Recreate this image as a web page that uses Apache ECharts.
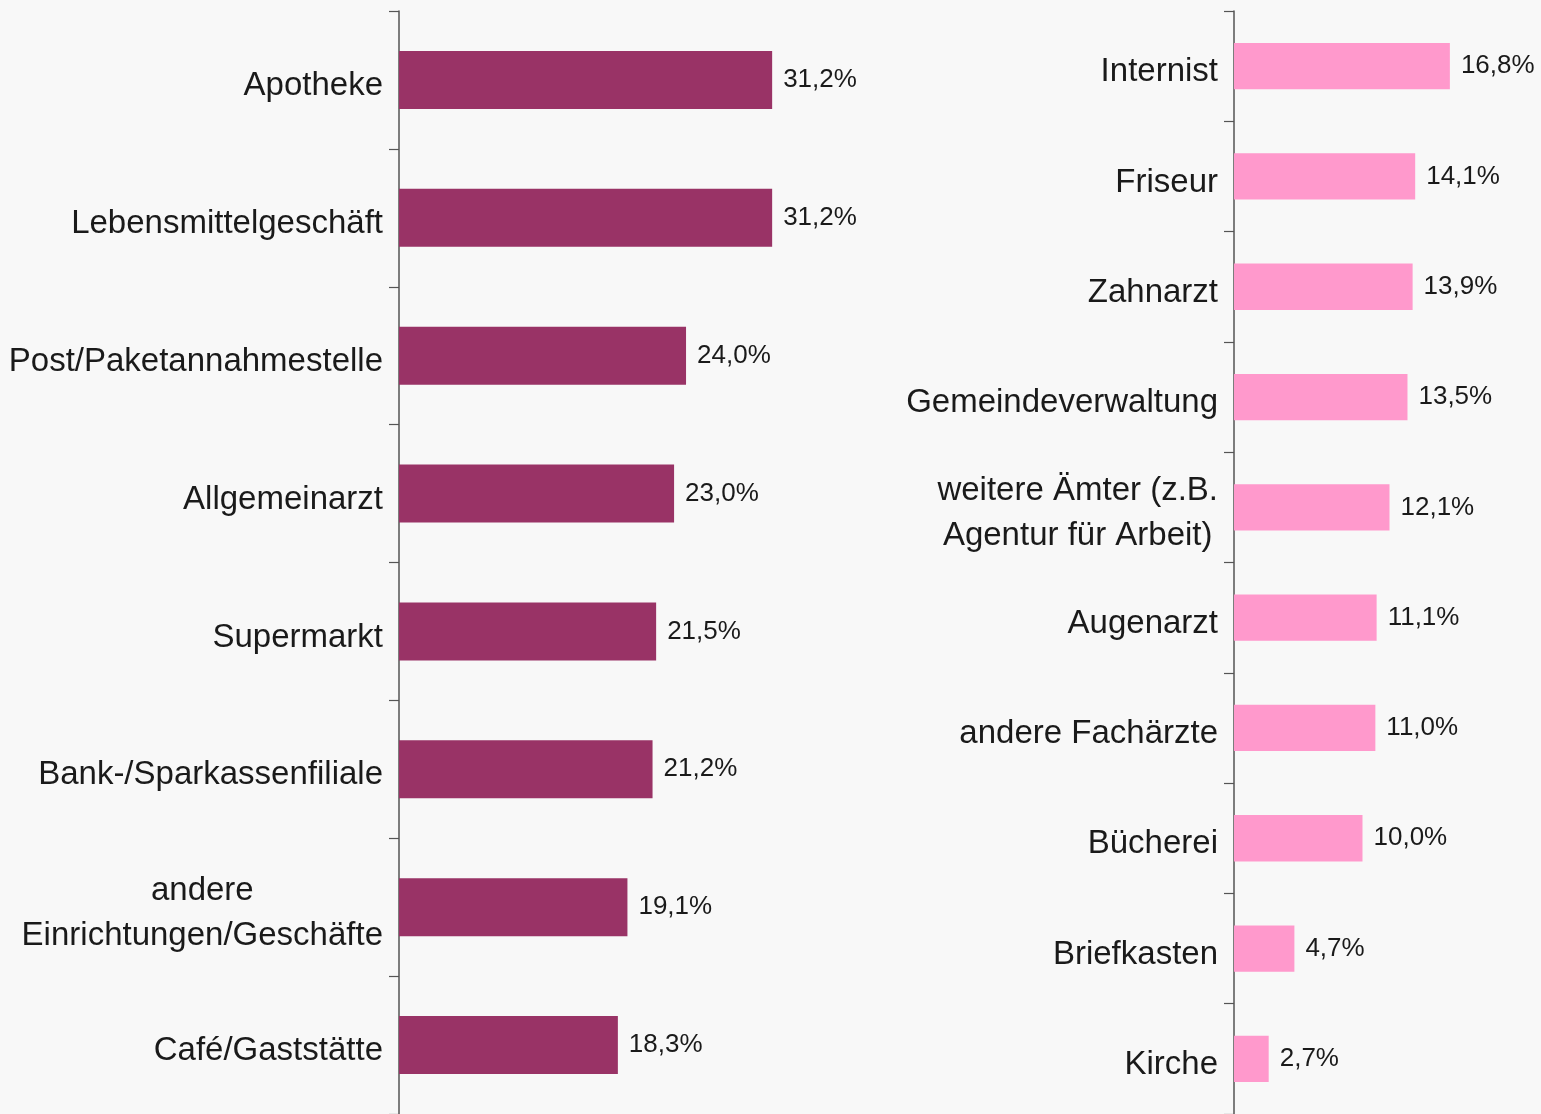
<!DOCTYPE html>
<html>
<head>
<meta charset="utf-8">
<script src="https://cdn.jsdelivr.net/npm/echarts@6/dist/echarts.min.js"></script>
<style>
  html, body { margin: 0; padding: 0; background: #f8f8f8; }
  #chart { width: 1541px; height: 1114px; }
</style>
</head>
<body>
<div id="chart"></div>
<script>
// linke Gruppe
const leftCats = ['Apotheke', 'Lebensmittelgeschäft', 'Post/Paketannahmestelle', 'Allgemeinarzt',
  'Supermarkt', 'Bank-/Sparkassenfiliale', 'andere\nEinrichtungen/Geschäfte', 'Café/Gaststätte'];
const leftVals = [31.2, 31.2, 24.0, 23.0, 21.5, 21.2, 19.1, 18.3];

// rechte Gruppe
const rightCats = ['Internist', 'Friseur', 'Zahnarzt', 'Gemeindeverwaltung',
  'weitere Ämter (z.B.\nAgentur für Arbeit)', 'Augenarzt', 'andere Fachärzte', 'Bücherei', 'Briefkasten', 'Kirche'];
const rightVals = [16.8, 14.1, 13.9, 13.5, 12.1, 11.1, 11.0, 10.0, 4.7, 2.7];

const font = '"Liberation Sans", Arial, sans-serif';
const chart = echarts.init(document.getElementById('chart'));

function catAxis(gridIndex, data) {
  return {
    type: 'category',
    gridIndex: gridIndex,
    data: data,
    inverse: true,
    axisLine: { show: true, lineStyle: { color: '#555', width: 1.5 } },
    axisTick: { show: true, alignWithLabel: false, length: 10, lineStyle: { color: '#555', width: 1.2 } },
    axisLabel: {
      margin: 16,
      padding: [12, 0, 0, 0],
      color: '#1a1a1a',
      fontSize: 33,
      fontFamily: font,
      lineHeight: 45,
      formatter: function (v) {
        return v.split('\n').map(function (s) { return '{c|' + s + '}'; }).join('\n');
      },
      rich: { c: { align: 'center', fontSize: 33, fontFamily: font, color: '#1a1a1a', lineHeight: 45 } }
    }
  };
}

function valAxis(gridIndex, max) {
  return {
    type: 'value', gridIndex: gridIndex, min: 0, max: max,
    axisLine: { show: false }, axisTick: { show: false }, axisLabel: { show: false }, splitLine: { show: false }
  };
}

function barSeries(idx, data, color) {
  return {
    type: 'bar',
    xAxisIndex: idx,
    yAxisIndex: idx,
    data: data,
    barWidth: '42%',
    itemStyle: { color: color },
    label: {
      show: true,
      position: 'right',
      distance: 11,
      padding: [6, 0, 0, 0],
      color: '#1a1a1a',
      fontSize: 26,
      fontFamily: font,
      formatter: function (p) { return p.value.toFixed(1).replace('.', ',') + '%'; }
    }
  };
}

chart.setOption({
  backgroundColor: '#f8f8f8',
  animation: false,
  grid: [
    { left: 399, top: 11, width: 418.6, height: 1104 },
    { left: 1234, top: 11, width: 257, height: 1104 }
  ],
  xAxis: [valAxis(0, 35), valAxis(1, 20)],
  yAxis: [catAxis(0, leftCats), catAxis(1, rightCats)],
  series: [barSeries(0, leftVals, '#993366'), barSeries(1, rightVals, '#ff99cc')]
});
</script>
</body>
</html>
